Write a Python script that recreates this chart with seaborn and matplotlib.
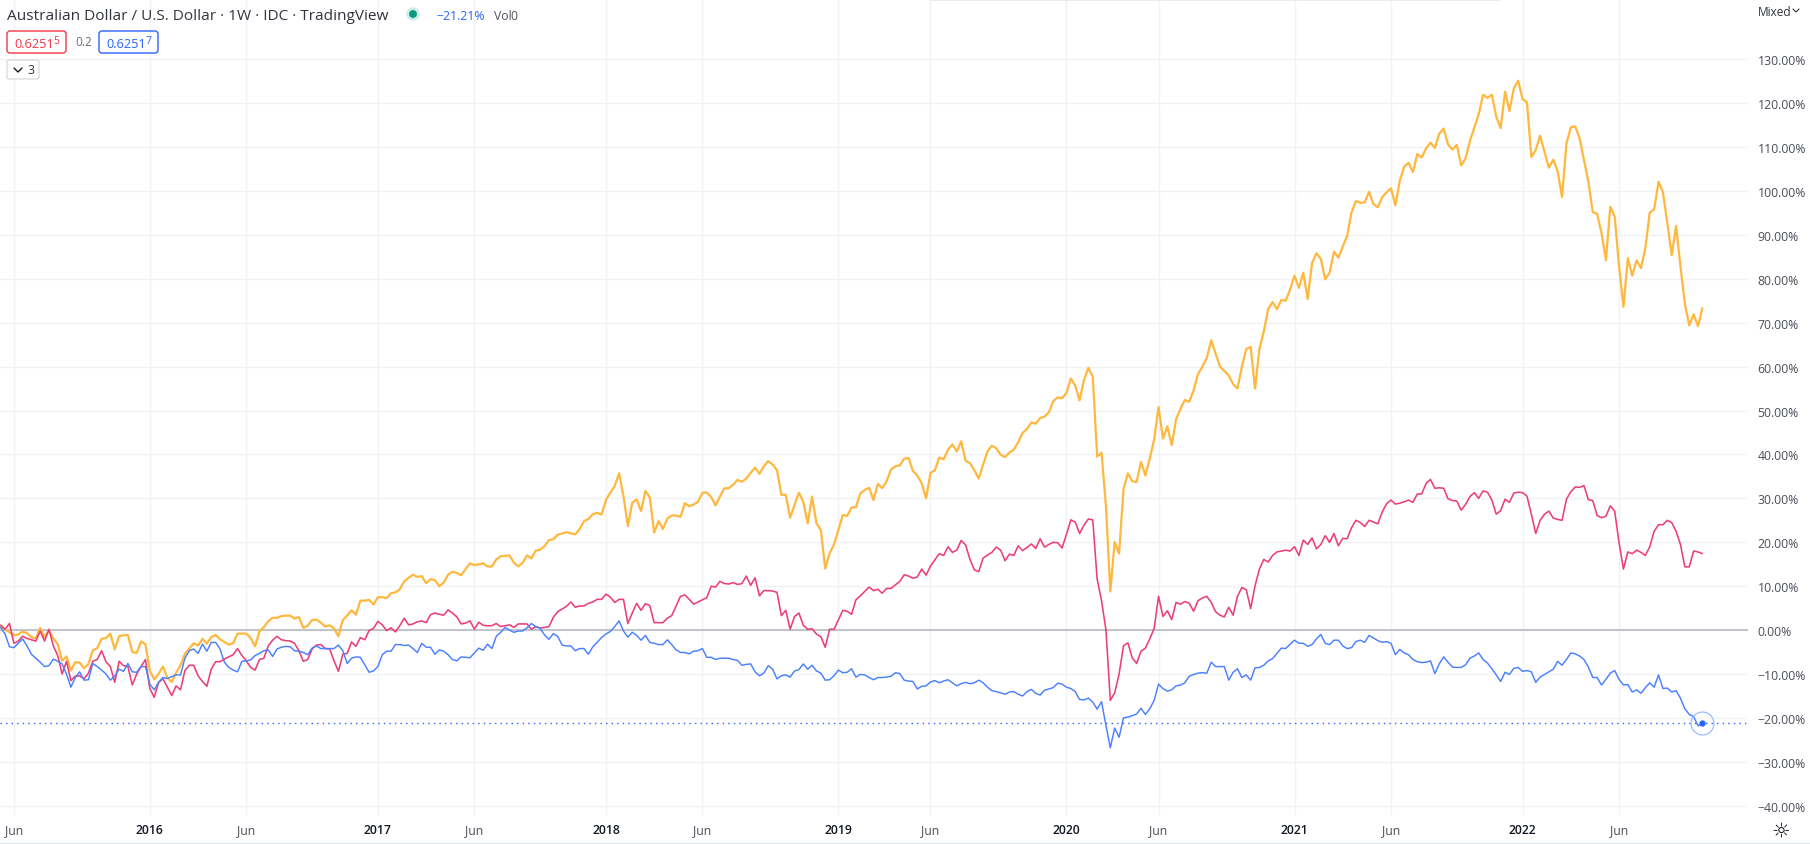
import matplotlib
matplotlib.use('Agg')
import matplotlib.pyplot as plt
from matplotlib.patches import FancyBboxPatch, Circle, Rectangle
import numpy as np
import pandas as pd
import seaborn as sns

# weekly % change since the start of the chart
orange_vals = [
    1.0, 0.1, -0.5, -1.1, -1.0, -0.3, -0.7, -1.6, -1.9, 0.5, -1.6, -0.1, -1.9, -3.2, -7, -6, -9.2, -7.3, -7.4, -8.7,
    -7.7, -4.6, -4.1, -2, -1.8, -0.8, -4.4, -1.4, -1.2, -1.1, -5, -5.2, -2.6, -3.2, -9.2, -11.2, -10, -8.3, -10.9, -11.8,
    -9.7, -8, -5.4, -4.2, -3, -3.5, -2, -3.1, -1.6, -1.1, -2.1, -2.7, -3.3, -3, -0.8, -0.8, -0.8, -1.8, -3.7, -0.3,
    0.7, 2, 2.8, 2.8, 3.2, 3.3, 3.3, 2.6, 3, 0.5, 1, 2.3, 2.4, 1.7, 0.8, 1.1, 0.4, -1.4, 2.3, 3.3,
    4.5, 3.5, 6.7, 6.7, 6.9, 5.8, 7.5, 7.5, 7.3, 8.4, 8.6, 9.3, 11.1, 11.9, 12.6, 12.1, 12.3, 10.7, 11.6, 11.4,
    10, 10.8, 12.6, 13.3, 13, 12.5, 13.9, 15.2, 14.8, 15, 15.2, 14.5, 14.5, 16.1, 16.8, 16.9, 17, 15.4, 14.5, 15.3,
    17, 16.3, 18.1, 18.3, 19.1, 20.5, 20.7, 21.7, 22, 22.3, 22, 21.8, 23, 24.8, 25.3, 26.4, 26.7, 26.3, 29.6, 31.3,
    32.8, 35.7, 30.5, 23.7, 29, 29.8, 27.1, 31.7, 30.2, 22.2, 24.8, 23, 25.4, 26.1, 26.1, 25.8, 28.9, 28.2, 28.6, 29.2,
    31.3, 31.3, 30.3, 28.4, 30.4, 32.3, 32.3, 33.1, 34.2, 33.8, 34.5, 35.8, 37, 35.6, 37.3, 38.5, 37.7, 36.4, 30.8, 30.8,
    25.6, 28.5, 31.3, 29.2, 24.3, 30.4, 24.3, 22.8, 14, 17.5, 19.5, 22.8, 26.2, 26, 27.9, 28, 31.1, 31.9, 32.4, 29.6,
    33.3, 32.3, 33.9, 36.6, 37.3, 37.5, 39, 39.2, 36.2, 35.2, 33.4, 30, 35.8, 36.4, 39.3, 38.9, 41.1, 42.3, 40.7, 43,
    38.6, 38, 36.4, 34.5, 37.7, 40.7, 42, 41.4, 39.9, 39.4, 40.4, 41.1, 42.8, 44.9, 45.8, 47.3, 47, 48.3, 48.6, 49.6,
    52.1, 53, 52.8, 54, 57.3, 55.7, 52.3, 57, 59.7, 57.7, 39.5, 40.4, 28.3, 8.8, 20.1, 17.4, 32, 35.7, 33.9, 33.7,
    38.3, 35.2, 39.1, 43.4, 50.8, 43.6, 46.4, 42.1, 48, 50.4, 52.4, 52, 54.6, 58.3, 60, 62, 66, 63, 60, 59,
    58, 56, 55, 60, 64, 64.5, 55, 64, 68, 73.1, 74.7, 73.1, 75.2, 75, 77.6, 80.7, 77.9, 81.4, 75.4, 83.6,
    85.8, 84.5, 79.9, 81.4, 86.2, 84.8, 87.3, 89.8, 95.1, 97.7, 97.3, 97.4, 99.8, 97, 96.3, 98.6, 99.7, 100.6, 96.7, 102.3,
    105.5, 106.4, 104.3, 108.4, 107.6, 109.7, 111, 109.8, 113, 114.2, 110.6, 109.4, 110.5, 105.8, 107.4, 111.4, 114.4, 117.5, 121.9, 121.2,
    121.9, 116.9, 114.3, 122.6, 118.2, 123.3, 125.1, 120.9, 120.2, 107.7, 109.3, 112.6, 108.9, 105.3, 107.1, 104.5, 98.6, 110.8, 114.5, 114.7,
    112, 107, 102.1, 95.2, 94.8, 90.4, 84.2, 96.4, 94.2, 82.8, 73.6, 84.7, 80.7, 84.2, 82.4, 87, 95.1, 95.8, 102.1, 99.7,
    92.7, 85.4, 92, 82.8, 74.3, 69.4, 71.9, 69.2, 73.3,
]
magenta_vals = [
    1.1, 0.2, 1.5, -3, -2.5, -1.4, -1.9, -2.2, -2.5, -0.2, -2.5, 0.2, -3.6, -5.8, -10, -7.1, -11.5, -10.5, -10.4, -11.1,
    -9.8, -7.1, -6.7, -4.7, -7.2, -8.3, -11.9, -7.1, -8.1, -8.3, -12.5, -10, -8.3, -6.7, -13.3, -15.3, -11.9, -11.1, -13, -14.9,
    -12.7, -13.6, -9.2, -8, -8, -10.4, -11.7, -12.8, -8.9, -7.2, -7.2, -6.6, -6.1, -5.6, -4.2, -5.8, -7, -8.5, -9.1, -6.7,
    -6.4, -3.6, -2.3, -1.4, -2.2, -2.4, -2.5, -3, -4.7, -7.1, -6.7, -4.3, -3.4, -3.3, -4.2, -4.3, -7, -9.4, -5.5, -5.3,
    -2.7, -3.7, -1.7, -2.2, -0.1, 0.4, 2, 1.2, -0.1, 0.5, -0.4, 1, 2.7, 1.2, 1.4, 1.9, 2.1, 1.7, 3.5, 3.9,
    3.6, 3.4, 4.6, 3.9, 3, 1.4, 1.6, 2.1, 0.2, 1.8, 1.1, 1, 1, 1.5, 0.8, 1, 1.2, 0.6, 1.4, 1.4,
    1.4, 0.2, 0.8, 0.5, 0.6, 0.8, 2.9, 4.2, 4.8, 5.4, 6.4, 5.2, 5.5, 5.5, 6.1, 6.4, 7, 7, 8.2, 7.5,
    6.3, 7, 7, 1.5, 3.9, 6.1, 4.5, 6, 5.6, 1.7, 1.7, 1.7, 2.7, 3.3, 5.5, 7.7, 8, 7, 5.9, 6.4,
    6.9, 7.4, 10, 9.8, 11.1, 10.6, 10.5, 10.8, 10.4, 10.6, 12.3, 10.2, 11.9, 7.8, 9, 9, 8.9, 8.6, 3.3, 4.5,
    0.2, 3.1, 3.9, 1.1, 0.2, 0.3, -0.9, -1.5, -3.9, 0.2, 0.2, 2.3, 4.5, 4.3, 3.6, 6.9, 7.8, 8.8, 9.8, 9,
    9.3, 8.4, 9.5, 9.5, 10.3, 11.1, 12.6, 12.3, 11.8, 12.1, 13.9, 12.5, 14.6, 16, 17.4, 17, 19, 17.7, 18.2, 20.4,
    19.4, 16.1, 13.7, 13.3, 16.4, 17.1, 17.7, 18.9, 18.2, 15.8, 17.3, 17, 19.2, 18.1, 18.8, 19.6, 18.6, 20.8, 18.9, 19.5,
    20, 19.9, 18.7, 21.8, 25.1, 24.6, 22, 23.9, 25.3, 25.1, 11.6, 6.7, 0.1, -16, -14.3, -10, -3.6, -2.9, -6.3, -7.6,
    -4.8, -4.1, -2, 0.4, 7.7, 3.1, 4.4, 2.4, 6.3, 5.9, 6.5, 6.1, 4.3, 6.7, 7.3, 7.7, 6.3, 4.2, 3.4, 3,
    5.2, 3.4, 7.7, 9.7, 9.2, 4.9, 10.1, 13.9, 16.1, 15.5, 17, 17.8, 18, 18.2, 18, 19, 17, 20.5, 19.5, 21,
    18.5, 19.5, 21.5, 20, 22, 19.2, 20.9, 20.8, 23.3, 25, 24.5, 23.6, 25, 24.6, 24.2, 26.9, 28.8, 29.6, 28.7, 28.9,
    29.2, 29.6, 29.1, 31, 31, 33.4, 34.3, 32.3, 32.4, 32.3, 29.9, 29.5, 29.4, 27.3, 28.6, 30.4, 31.3, 30, 31.7, 31.4,
    29.6, 26.4, 27.2, 29.8, 29.1, 31.2, 31.4, 31.3, 30.5, 26.4, 22, 25, 26.4, 27.1, 25.5, 25.2, 25, 29.8, 31.5, 32.6,
    32.5, 32.9, 29.7, 29.5, 26.1, 25.6, 25.9, 28.3, 27.1, 19.9, 13.9, 17.8, 17.4, 18.2, 17.7, 17, 19, 22.5, 24, 24,
    25, 24.5, 22.5, 19.5, 14.4, 14.4, 18, 17.8, 17.4,
]
blue_vals = [
    0.6, -0.9, -3.8, -4, -3, -2, -3.6, -5.5, -6.4, -7.3, -8.3, -8.1, -6.6, -7.1, -7.7, -10, -13, -10.8, -9.5, -11.4,
    -11.3, -7.6, -8.3, -9.1, -10, -11.4, -10.5, -8.9, -9.4, -7.6, -9.5, -9.6, -8.3, -8.3, -12.3, -13.6, -11.9, -10.8, -11, -10.6,
    -10.2, -10.2, -6.4, -4.7, -4.3, -5.3, -3.2, -4.8, -2.8, -2.8, -4.3, -7.3, -8.5, -9.1, -9.5, -7.1, -7, -6.8, -5.8, -5.3,
    -4.7, -4.5, -6, -4.3, -3.9, -3.7, -3.8, -4.7, -4.8, -5.1, -5.6, -4.1, -3.6, -4.2, -4.2, -4.2, -4.2, -3.4, -4.7, -7.6,
    -6.4, -6.1, -6.2, -7.9, -9.6, -9.3, -8.3, -5.6, -4.8, -4.8, -3.3, -3.3, -3.5, -3.4, -4.2, -5.1, -3, -3.9, -3.9, -5.5,
    -4.5, -4.8, -5.6, -6.7, -7, -6.1, -6.2, -6.3, -5.2, -4.1, -4.6, -3.2, -4.2, -1.4, -0.5, 0.6, 0, -0.5, -0.2, -0.2,
    0.5, 1.5, 0.8, 0.4, -1.1, -2.1, -0.8, -1.4, -3.4, -3.6, -3.6, -4.7, -4.2, -4.2, -5.5, -3.8, -2.8, -1.7, -0.9, -0.3,
    0.8, 2.1, -0.2, -1.6, -0.5, -1.2, -2.3, -1.2, -2.8, -3, -3.3, -3.3, -2.2, -3.3, -4.5, -5.1, -5.1, -5.4, -4.8, -4.7,
    -4.2, -6.2, -6.2, -6.7, -6.4, -6.4, -6.4, -6.7, -6.9, -8, -7.8, -7.7, -9.5, -10.4, -9.8, -8.1, -8.9, -11.1, -10.4, -10.2,
    -10.7, -9.3, -9, -7.7, -8.9, -8, -9.3, -9.8, -11.4, -11.3, -10.4, -9.1, -9.7, -9.6, -8.8, -10.7, -10.1, -10.2, -10.8, -11.3,
    -10.8, -10.8, -10.7, -10.5, -9.7, -9.9, -11.4, -11.6, -11.7, -13.4, -12.8, -12.7, -11.8, -11.5, -12, -11.6, -11.3, -12, -12.7, -12.2,
    -11.9, -12.2, -12, -11.4, -12, -13, -13.8, -14, -14.3, -14.6, -14.1, -14, -14.6, -15, -14, -13.5, -14.4, -14.8, -13.7, -13.4,
    -13.1, -12.1, -12.3, -13, -13.3, -14, -15.8, -15.9, -15.5, -16.4, -18, -16.3, -21.7, -26.8, -22.3, -24.4, -20, -19.8, -19.5, -19.1,
    -17.8, -19.2, -17.9, -16, -12.3, -13.3, -13.9, -13.6, -12.7, -12.5, -12, -10.5, -10.1, -9.8, -9.7, -9.8, -7.3, -8.3, -8.3, -8.3,
    -11.4, -9.6, -8.8, -10.8, -10.2, -11.4, -8.6, -8.5, -8, -7, -6.5, -5.3, -4.1, -4.2, -3.2, -2.3, -3, -3, -3.7, -3.3,
    -2, -1, -3, -3.3, -2.3, -2.3, -3.6, -4.2, -4, -2.6, -2.3, -2.8, -1.2, -1.8, -2.4, -2.8, -2.6, -3, -5.6, -4.4,
    -5.2, -5.6, -6.7, -7.2, -7.4, -7.3, -7, -9.9, -7.7, -6.1, -7.3, -8.4, -8.5, -8.5, -7.9, -6.4, -5.9, -5.2, -6.7, -7.5,
    -8.8, -10.2, -11.7, -9.6, -10.1, -8.7, -8.5, -9.4, -9.2, -9.5, -11.9, -10.7, -10.1, -9.5, -8.9, -7.1, -8, -6.7, -5.2, -5.4,
    -5.9, -6.7, -8.4, -10.8, -10.8, -12.5, -11.2, -9.8, -9.2, -11.2, -12.5, -12.4, -14.1, -13.6, -14.4, -13.1, -12, -13, -10.2, -13.3,
    -13.2, -14.1, -13.8, -15.5, -17.9, -19.2, -19.7, -21.8, -21.2,
]

last_pct = -21.21

# x ticks as week numbers
tick_weeks = [3, 34, 56, 86, 108, 138, 160, 191, 212, 243, 264, 295, 317, 347, 369]
tick_labels = ['Jun', '2016', 'Jun', '2017', 'Jun', '2018', 'Jun', '2019', 'Jun', '2020', 'Jun', '2021', 'Jun', '2022', 'Jun']
pct_ticks = list(range(-40, 140, 10))

sns.set_theme(style='white')
plt.rcParams['font.family'] = ['Open Sans', 'DejaVu Sans']

W, H = 1810, 845
fig = plt.figure(figsize=(W / 100, H / 100), dpi=100, facecolor='white')
ax = fig.add_axes([0, 1 - 816 / H, 1748 / W, 816 / H])

df = pd.DataFrame({'week': range(len(orange_vals)), 'orange': orange_vals, 'magenta': magenta_vals, 'blue': blue_vals})
ax.axhline(0, color='#b2b5be', lw=1.1, zorder=1.5)
ax.axhline(last_pct, color='#2962ff', lw=1.0, ls=(0, (1, 3)), zorder=1.5)
sns.lineplot(data=df, x='week', y='orange', color='#ffb83d', lw=1.6, ax=ax, errorbar=None)
sns.lineplot(data=df, x='week', y='magenta', color='#ec3f76', lw=1.15, ax=ax, errorbar=None)
sns.lineplot(data=df, x='week', y='blue', color='#4a80ff', lw=1.05, ax=ax, errorbar=None)
ax.plot(df['week'].iloc[-1], blue_vals[-1], 'o', color='#2962ff', ms=3.5, zorder=5)
ax.plot(df['week'].iloc[-1], blue_vals[-1], 'o', mfc='none', mec='#9dbaff', mew=0.9, ms=16.5, zorder=5)

ax.set_xlim(-0.16, 398.4)
ax.set_ylim(-42.1, 143.7)
ax.set_xlabel('')
ax.set_ylabel('')
for s in ax.spines.values():
    s.set_visible(False)

ax.set_xticks(tick_weeks)
ax.set_xticklabels(tick_labels)
ax.set_yticks(pct_ticks)
ax.set_yticklabels([f"{v}.00%".replace('-', '\u2212') if v else '0.00%' for v in pct_ticks], ha='left')
ax.yaxis.tick_right()
ax.grid(True, color='#f1f2f5', lw=1.0)
ax.set_axisbelow(True)
ax.tick_params(axis='y', length=0, pad=7, labelsize=8.8, labelcolor='#4a4e59')
ax.tick_params(axis='x', length=0, pad=6, labelsize=8.8, labelcolor='#4a4e59')
for lab in ax.get_xticklabels():
    if lab.get_text() != 'Jun':
        lab.set_color('#131722')
        lab.set_fontweight('semibold')

# chart chrome in pixel coordinates
ui = fig.add_axes([0, 0, 1, 1], facecolor='none')
ui.set_xlim(0, W)
ui.set_ylim(H, 0)
ui.axis('off')

ui.text(7, 16, 'Australian Dollar / U.S. Dollar \u00b7 1W \u00b7 IDC \u00b7 TradingView', fontsize=11.1, color='#30343f', va='center')
ui.add_patch(Circle((413, 15), 6, color='#cdeae4'))
ui.add_patch(Circle((413, 15), 3.2, color='#089981'))
ui.text(436, 16, '\u221221.21%', fontsize=8.8, color='#2962ff', va='center')
ui.text(494, 16, 'Vol', fontsize=8.8, color='#50535e', va='center')
ui.text(510, 16, '0', fontsize=8.8, color='#50535e', va='center')

ui.add_patch(FancyBboxPatch((7, 32), 59, 22, boxstyle='round,pad=0,rounding_size=3', fc='white', ec='#f23645', lw=1))
ui.text(14, 44, '0.6251', fontsize=9.2, color='#f23645', va='center')
ui.text(53, 41, '5', fontsize=7.6, color='#f23645', va='center')
ui.text(75, 43, '0.2', fontsize=8.6, color='#6a6d78', va='center')
ui.add_patch(FancyBboxPatch((99, 32), 59, 22, boxstyle='round,pad=0,rounding_size=3', fc='white', ec='#2962ff', lw=1))
ui.text(106, 44, '0.6251', fontsize=9.2, color='#2962ff', va='center')
ui.text(145, 41, '7', fontsize=7.6, color='#2962ff', va='center')
ui.add_patch(FancyBboxPatch((7, 61), 32, 19, boxstyle='round,pad=0,rounding_size=2', fc='white', ec='#d1d4dc', lw=0.8))
ui.plot([14, 18, 22], [69, 73, 69], color='#131722', lw=1)
ui.text(27, 71, '3', fontsize=8.8, color='#30343f', va='center')

ui.text(1758, 12, 'Mixed', fontsize=8.6, color='#30343f', va='center')
ui.plot([1793, 1796, 1799], [10, 13, 10], color='#30343f', lw=0.8)
ui.text(1781, 831, '\u263c', fontsize=15, color='#131722', va='center', ha='center', family='DejaVu Sans')

# bits of the page around the chart
ui.add_patch(Rectangle((930, 0), 570, 1.5, color='#e9eaee', lw=0))
ui.add_patch(Rectangle((0, 843.5), W, 1.5, color='#e0e3eb', lw=0))

fig.savefig('out.png', dpi=100)
